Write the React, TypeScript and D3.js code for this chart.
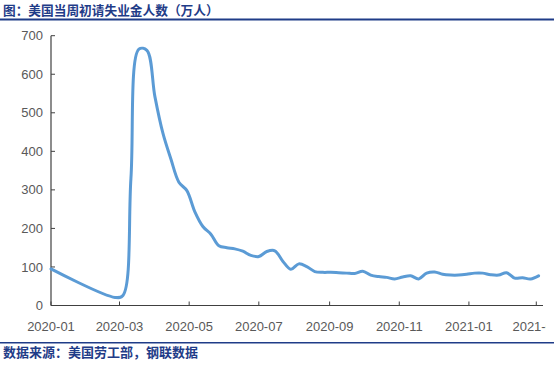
import React from 'react';
import * as d3 from 'd3';

const title = '图：美国当周初请失业金人数（万人）';
const source = '数据来源：美国劳工部，钢联数据';

// weekly initial jobless claims, 万人
const dates = [
  '2020-01-01', '2020-02-26', '2020-03-04', '2020-03-11', '2020-03-18', '2020-03-25',
  '2020-04-01', '2020-04-08', '2020-04-15', '2020-04-22', '2020-04-29', '2020-05-06',
  '2020-05-13', '2020-05-20', '2020-05-27', '2020-06-03', '2020-06-10', '2020-06-17',
  '2020-06-24', '2020-07-01', '2020-07-08', '2020-07-15', '2020-07-22', '2020-07-29',
  '2020-08-05', '2020-08-12', '2020-08-19', '2020-08-26', '2020-09-02', '2020-09-09',
  '2020-09-16', '2020-09-23', '2020-09-30', '2020-10-07', '2020-10-14', '2020-10-21',
  '2020-10-28', '2020-11-04', '2020-11-11', '2020-11-18', '2020-11-25', '2020-12-02',
  '2020-12-09', '2020-12-16', '2020-12-23', '2020-12-30', '2021-01-06', '2021-01-13',
  '2021-01-20', '2021-01-27', '2021-02-03', '2021-02-10', '2021-02-17', '2021-02-24',
  '2021-03-03',
];
const claims = [
  95, 21, 26, 330, 665, 662,
  542, 447, 380, 320, 298, 243,
  205, 185, 155, 150, 147, 141,
  130, 127, 140, 142, 115, 94,
  108, 101, 88, 86, 86, 85,
  84, 83, 89, 79, 75, 73,
  69, 74, 77, 69, 84, 87,
  81, 79, 79, 81, 84, 84,
  80, 79, 85, 71, 72, 69,
  77,
];
const yTicks = [0, 100, 200, 300, 400, 500, 600, 700];

const W = 554;
const H = 365;
const blue = '#1F3C88';

export default function App() {
  const parse = d3.timeParse('%Y-%m-%d');
  const pts = dates.map((d, i) => ({ date: parse(d) as Date, v: claims[i] }));

  const x = d3.scaleTime()
    .domain([parse('2020-01-01') as Date, parse('2021-03-06') as Date])
    .range([51, 542]);
  const y = d3.scaleLinear().domain([0, 700]).range([305.5, 35.7]);

  const line = d3.line<{ date: Date; v: number }>()
    .x(d => x(d.date))
    .y(d => y(d.v))
    .curve(d3.curveCatmullRom.alpha(0.5));

  const xTicks = x.ticks(d3.timeMonth.every(2) as d3.TimeInterval);
  const fmt = d3.timeFormat('%Y-%m');
  const axisColor = '#404040';
  const labelColor = '#595959';
  const font = '"Liberation Sans", "DejaVu Sans", sans-serif';
  const cjk = '"Noto Sans CJK SC", sans-serif';

  return (
    <svg width={W} height={H} style={{ position: 'absolute', left: 0, top: 0, background: '#fff' }}>
      <defs>
        <clipPath id="chartClip">
          <rect x={0} y={0} width={546} height={H} />
        </clipPath>
      </defs>

      <text x={3} y={15} fontFamily={cjk} fontWeight="bold" fontSize={12.7} fill={blue}>{title}</text>
      <line x1={0} x2={W} y1={19.5} y2={19.5} stroke={blue} strokeWidth={2} />

      {/* y axis */}
      <line x1={51} x2={51} y1={y(700)} y2={y(0)} stroke={axisColor} strokeWidth={1.2} />
      {yTicks.map(t => (
        <g key={t}>
          <line x1={51} x2={55} y1={y(t)} y2={y(t)} stroke={axisColor} strokeWidth={1} />
          <text x={43} y={y(t)} dy="0.35em" textAnchor="end" fontFamily={font} fontSize={13} fill={labelColor}>{t}</text>
        </g>
      ))}

      {/* x axis */}
      <g clipPath="url(#chartClip)">
        <line x1={51} x2={543} y1={y(0)} y2={y(0)} stroke={axisColor} strokeWidth={1.2} />
        {xTicks.map(t => (
          <g key={t.getTime()}>
            <line x1={x(t)} x2={x(t)} y1={y(0)} y2={y(0) - 4} stroke={axisColor} strokeWidth={1} />
            <text x={x(t)} y={326} dy="0.35em" textAnchor="middle" fontFamily={font} fontSize={13} fill={labelColor}>{fmt(t)}</text>
          </g>
        ))}
      </g>

      <path d={line(pts) || ''} fill="none" stroke="#5B9BD5" strokeWidth={3} strokeLinejoin="round" strokeLinecap="round" />

      <line x1={0} x2={W} y1={342.8} y2={342.8} stroke={blue} strokeWidth={1.5} />
      <text x={3} y={357} fontFamily={cjk} fontWeight="bold" fontSize={13} fill={blue}>{source}</text>
    </svg>
  );
}
